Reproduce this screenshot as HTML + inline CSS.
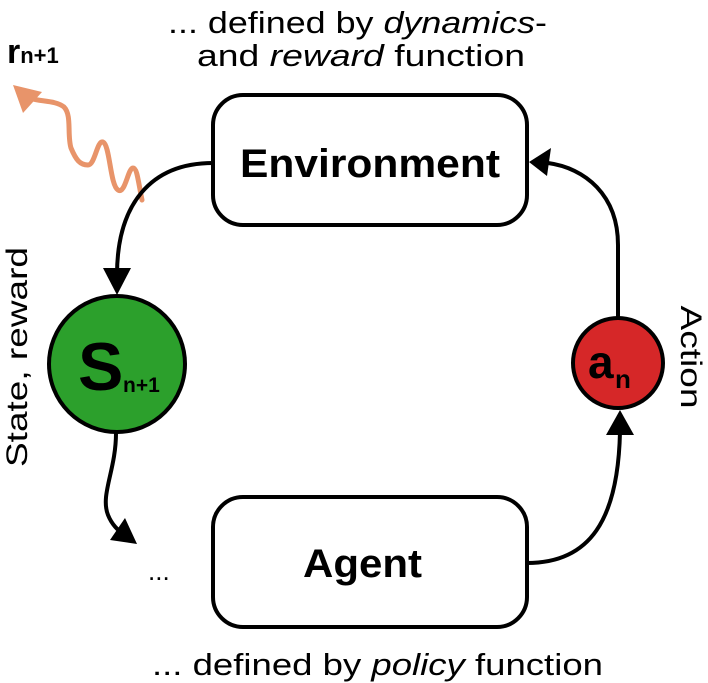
<!DOCTYPE html>
<html><head><meta charset="utf-8"><style>
html,body{margin:0;padding:0;background:#fff;}
svg{display:block;font-family:"Liberation Sans","DejaVu Sans",sans-serif;}
</style></head><body>
<svg width="708" height="683" viewBox="0 0 708 683" xmlns="http://www.w3.org/2000/svg">
<text x="168" y="33" font-size="31" textLength="379" lengthAdjust="spacingAndGlyphs">... defined by <tspan font-style="italic">dynamics</tspan>-</text>
<text x="197" y="66" font-size="31" textLength="328" lengthAdjust="spacingAndGlyphs">and <tspan font-style="italic">reward</tspan> function</text>
<text x="152" y="675" font-size="31" textLength="451" lengthAdjust="spacingAndGlyphs">... defined by <tspan font-style="italic">policy</tspan> function</text>
<text x="7" y="63" font-size="34" font-weight="bold">r<tspan font-size="22" dy="0">n+1</tspan></text>

<rect x="213" y="95" width="314" height="130" rx="30" fill="#fff" stroke="#000" stroke-width="4"/>
<text x="240" y="177" font-size="40" font-weight="bold" textLength="260" lengthAdjust="spacingAndGlyphs">Environment</text>
<rect x="213" y="497" width="314" height="130" rx="30" fill="#fff" stroke="#000" stroke-width="4"/>
<text x="303" y="577" font-size="40" font-weight="bold" textLength="119" lengthAdjust="spacingAndGlyphs">Agent</text>

<path d="M142,200 C138,180 137,168 133,168 C128,168 125,195 118,190 C110,185 110,145 103,142 C97,140 95,165 88,165 C80,165 76,160 71,148 C67,135 72,115 64,107 C55,100 40,102 30,98" fill="none" stroke="#e8946a" stroke-width="5" stroke-linejoin="round" stroke-linecap="round"/>
<polygon points="13,85 42,92 23,113" fill="#e8946a"/>

<path d="M213,163 C150,163 117,205 117,275" fill="none" stroke="#000" stroke-width="4"/>
<polygon points="103,268 131,268 117,295" fill="#000"/>

<circle cx="117" cy="364" r="68" fill="#2ca02c" stroke="#000" stroke-width="4"/>
<text x="78" y="390" font-size="68" font-weight="bold">S</text>
<text x="123" y="392" font-size="21" font-weight="bold">n+1</text>

<path d="M116,433 C116,470 100,495 108,515 C112,525 118,530 124,535" fill="none" stroke="#000" stroke-width="4"/>
<polygon points="110,540 137,544 125,518" fill="#000"/>
<text x="148" y="580" font-size="26">...</text>

<circle cx="618" cy="363" r="45" fill="#d62728" stroke="#000" stroke-width="4"/>
<text x="588" y="378" font-size="46" font-weight="bold">a</text>
<text x="615" y="388" font-size="26" font-weight="bold">n</text>

<path d="M618,318 L618,245 C618,195 585,168 548,163" fill="none" stroke="#000" stroke-width="4"/>
<polygon points="529,162 551,148 547,176" fill="#000"/>
<path d="M527,563 C590,563 618,520 620,432" fill="none" stroke="#000" stroke-width="4"/>
<polygon points="606,435 634,435 620,410" fill="#000"/>

<text transform="translate(27,357) rotate(-90)" font-size="30" text-anchor="middle" textLength="220" lengthAdjust="spacingAndGlyphs">State, reward</text>
<text transform="translate(681,357) rotate(90)" font-size="30" text-anchor="middle" textLength="103" lengthAdjust="spacingAndGlyphs">Action</text>
</svg>
</body></html>
